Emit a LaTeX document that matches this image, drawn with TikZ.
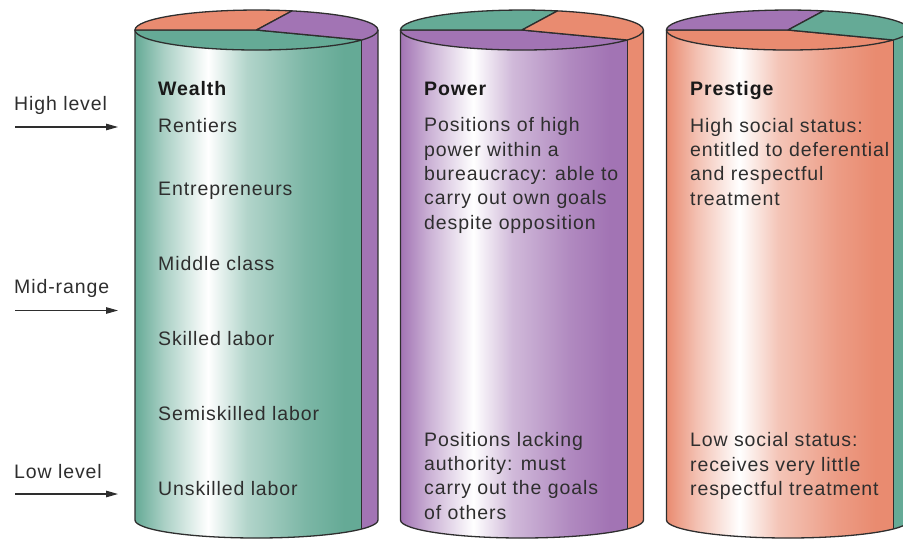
\documentclass[tikz,border=0pt]{standalone}
\usepackage{fontspec}
\setmainfont{Liberation Sans}[LetterSpace=4.6]
\usetikzlibrary{arrows.meta}
\usepackage{xcolor}
\definecolor{wealth}{HTML}{65AA96}
\definecolor{power}{HTML}{A274B4}
\definecolor{prestige}{HTML}{E98B70}
\definecolor{ink}{HTML}{2E2E2E}
\pgfdeclarehorizontalshading{wealthdrum}{100bp}{color(0bp)=(wealth); color(25bp)=(wealth); color(31bp)=(wealth!55); color(40bp)=(white); color(48bp)=(wealth!50); color(60bp)=(wealth!85); color(68bp)=(wealth); color(100bp)=(wealth)}
\pgfdeclarehorizontalshading{powerdrum}{100bp}{color(0bp)=(power); color(25bp)=(power); color(31bp)=(power!55); color(40bp)=(white); color(48bp)=(power!50); color(60bp)=(power!85); color(68bp)=(power); color(100bp)=(power)}
\pgfdeclarehorizontalshading{prestigedrum}{100bp}{color(0bp)=(prestige); color(25bp)=(prestige); color(31bp)=(prestige!55); color(40bp)=(white); color(48bp)=(prestige!50); color(60bp)=(prestige!85); color(68bp)=(prestige); color(100bp)=(prestige)}
\tikzset{
  every node/.style={font=\fontsize{19.5}{24.3}\selectfont,text=ink,inner sep=0pt},
  title/.style={font=\fontsize{19.5}{24.3}\selectfont\bfseries,text=black!90,anchor=base west},
  entry/.style={anchor=base west,align=left},
  rim/.style={draw=ink,line width=1.3pt,line join=round},
  levelarrow/.style={-{Triangle[length=12pt,width=6.5pt]},line width=1.1pt,draw=ink},
}
% #1 centre, #2 body colour, #3 back-left slice, #4 back-right slice and side strip
\newcommand{\drum}[4]{%
\begin{scope}[shift={(#1,0)}]
 \shade[shading=#2drum] (-121.5,-30) -- (-121.5,-520) arc[start angle=180,end angle=360,x radius=121.5pt,y radius=18pt] -- (121.5,-30) -- cycle;
 \fill[#4] (105.2,-40) -- (105.2,-529) arc[start angle=330,end angle=360,x radius=121.5pt,y radius=18pt] -- (121.5,-30) arc[start angle=0,end angle=-30,x radius=121.5pt,y radius=20pt] -- cycle;
 \draw[rim] (-121.5,-30) -- (-121.5,-520) arc[start angle=180,end angle=360,x radius=121.5pt,y radius=18pt] -- (121.5,-30);
 \draw[rim] (105.2,-40) -- (105.2,-529);
 \filldraw[rim,fill=#2] (0,-30) -- (-121.5,-30) arc[start angle=180,end angle=330,x radius=121.5pt,y radius=20pt] -- cycle;
 \filldraw[rim,fill=#3] (0,-30) -- (35.5,-10.9) arc[start angle=73,end angle=180,x radius=121.5pt,y radius=20pt] -- cycle;
 \filldraw[rim,fill=#4] (0,-30) -- (105.2,-40) arc[start angle=-30,end angle=73,x radius=121.5pt,y radius=20pt] -- cycle;
\end{scope}}

\begin{document}
\begin{tikzpicture}[x=1pt,y=1pt]
\useasboundingbox (0,0) rectangle (903,-539);
\clip (0,0) rectangle (903,-539);

\drum{256.5}{wealth}{prestige}{power}
\drum{522}{power}{wealth}{prestige}
\drum{788}{prestige}{power}{wealth}

\node[title] (wealth) at (158,-95.5) {Wealth};
\node[entry] (rentiers) at (158,-132) {Rentiers};
\node[entry] (entrepreneurs) at (158,-195) {Entrepreneurs};
\node[entry] (middle) at (158,-270) {Middle class};
\node[entry] (skilled) at (158,-345) {Skilled labor};
\node[entry] (semiskilled) at (158,-420) {Semiskilled labor};
\node[entry] (unskilled) at (158,-495) {Unskilled labor};

% multi-line blocks sit on the baseline of their last line
\node[title] (power) at (424,-95.5) {Power};
\node[entry] (power-high) at (424,-229) {Positions of high\\power within a\\bureaucracy: able to\\carry out own goals\\despite opposition};
\node[entry] (power-low) at (424,-519) {Positions lacking\\authority: must\\carry out the goals\\of others};

\node[title] (prestige) at (690,-95.5) {Prestige};
\node[entry] (prestige-high) at (690,-205) {High social status:\\entitled to deferential\\and respectful\\treatment};
\node[entry] (prestige-low) at (690,-495.5) {Low social status:\\receives very little\\respectful treatment};

\node[entry] (high) at (14,-110.5) {High level};
\node[entry] (mid) at (14,-293.5) {Mid-range};
\node[entry] (low) at (14,-478) {Low level};

\coordinate (high-from) at (15,-127);
\coordinate (high-to) at (118,-127);
\coordinate (mid-from) at (15,-310.5);
\coordinate (mid-to) at (118,-310.5);
\coordinate (low-from) at (15,-494);
\coordinate (low-to) at (118,-494);
\draw[levelarrow] (high-from) -- (high-to);
\draw[levelarrow] (mid-from) -- (mid-to);
\draw[levelarrow] (low-from) -- (low-to);

\end{tikzpicture}
\end{document}
